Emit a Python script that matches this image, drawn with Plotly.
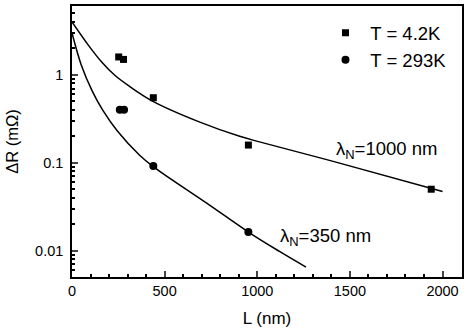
import plotly.graph_objects as go

# measured points
L_42K = [252, 278, 439, 952, 1939]
dR_42K = [1.60, 1.50, 0.55, 0.159, 0.050]

L_293K = [258, 281, 439, 952]
dR_293K = [0.40, 0.40, 0.092, 0.0163]

# fit curves
fit1000_L = [0, 88, 159, 231, 303, 437, 690, 905, 1012, 1400, 2000]
fit1000_dR = [4.0, 2.18, 1.41, 0.99, 0.76, 0.50, 0.29, 0.20, 0.173, 0.105, 0.047]

fit350_L = [0, 50, 110, 165, 245, 365, 440, 725, 950, 1120, 1263]
fit350_dR = [3.0, 1.3, 0.65, 0.40, 0.23, 0.122, 0.090, 0.035, 0.0164, 0.0098, 0.0065]

y_ticks = [0.01, 0.1, 1]
y_ticktext = ["0.01", "0.1", "1"]
x_ticks = [0, 500, 1000, 1500, 2000]

FONT = "Liberation Sans, Arial, Helvetica, sans-serif"

fig = go.Figure()
fig.add_trace(go.Scatter(x=fit1000_L, y=fit1000_dR, mode="lines", line=dict(color="black", width=1.5, shape="spline"),
                         showlegend=False, hoverinfo="skip"))
fig.add_trace(go.Scatter(x=fit350_L, y=fit350_dR, mode="lines", line=dict(color="black", width=1.5, shape="spline"),
                         showlegend=False, hoverinfo="skip"))
fig.add_trace(go.Scatter(x=L_42K, y=dR_42K, mode="markers", name=" T = 4.2K",
                         marker=dict(symbol="square", size=7, color="black")))
fig.add_trace(go.Scatter(x=L_293K, y=dR_293K, mode="markers", name=" T = 293K",
                         marker=dict(symbol="circle", size=8, color="black")))

# curve labels (log axis -> y given as log10)
fig.add_annotation(x=1695, y=-0.86, xref="x", yref="y", text="λ<sub>N</sub>=1000 nm", showarrow=False)
fig.add_annotation(x=1370, y=-1.85, xref="x", yref="y", text="λ<sub>N</sub>=350 nm", showarrow=False)
fig.update_annotations(font=dict(size=18.5, color="black", family=FONT), xanchor="center", yanchor="middle")

fig.update_layout(
    width=469, height=334,
    margin=dict(l=72, r=7, t=6, b=57, autoexpand=False),
    paper_bgcolor="white", plot_bgcolor="white",
    font=dict(family=FONT, size=14, color="black"),
    legend=dict(x=0.65, y=0.97, xanchor="left", yanchor="top", font=dict(size=18.5),
                bgcolor="rgba(0,0,0,0)", tracegroupgap=0),
)

fig.update_xaxes(range=[0, 2105], tickvals=x_ticks, ticks="inside", ticklen=6, tickwidth=1.5,
                 showline=True, linecolor="black", linewidth=1.5, mirror=True, showgrid=False, zeroline=False,
                 minor=dict(ticks="inside", ticklen=3, dtick=100, tickcolor="black", showgrid=False),
                 title=dict(text="L (nm)", font=dict(size=17), standoff=14), tickfont=dict(size=14.5),
                 automargin=False)
fig.update_yaxes(type="log", range=[-2.30, 0.784], tickvals=y_ticks, ticktext=y_ticktext, ticks="inside",
                 ticklen=6, tickwidth=1.5, showline=True, linecolor="black", linewidth=1.5, mirror=True,
                 showgrid=False, zeroline=False,
                 minor=dict(ticks="inside", ticklen=3, dtick="D1", tickcolor="black", showgrid=False),
                 title=dict(text="ΔR (mΩ)", font=dict(size=16.5), standoff=12), tickfont=dict(size=14.5),
                 automargin=False, ticklabelstandoff=4)

# drop the browser's default page margin so the figure sits at the corner
fig.write_html("out.html", config={"displayModeBar": False},
               post_script="document.body.style.margin='0';")
